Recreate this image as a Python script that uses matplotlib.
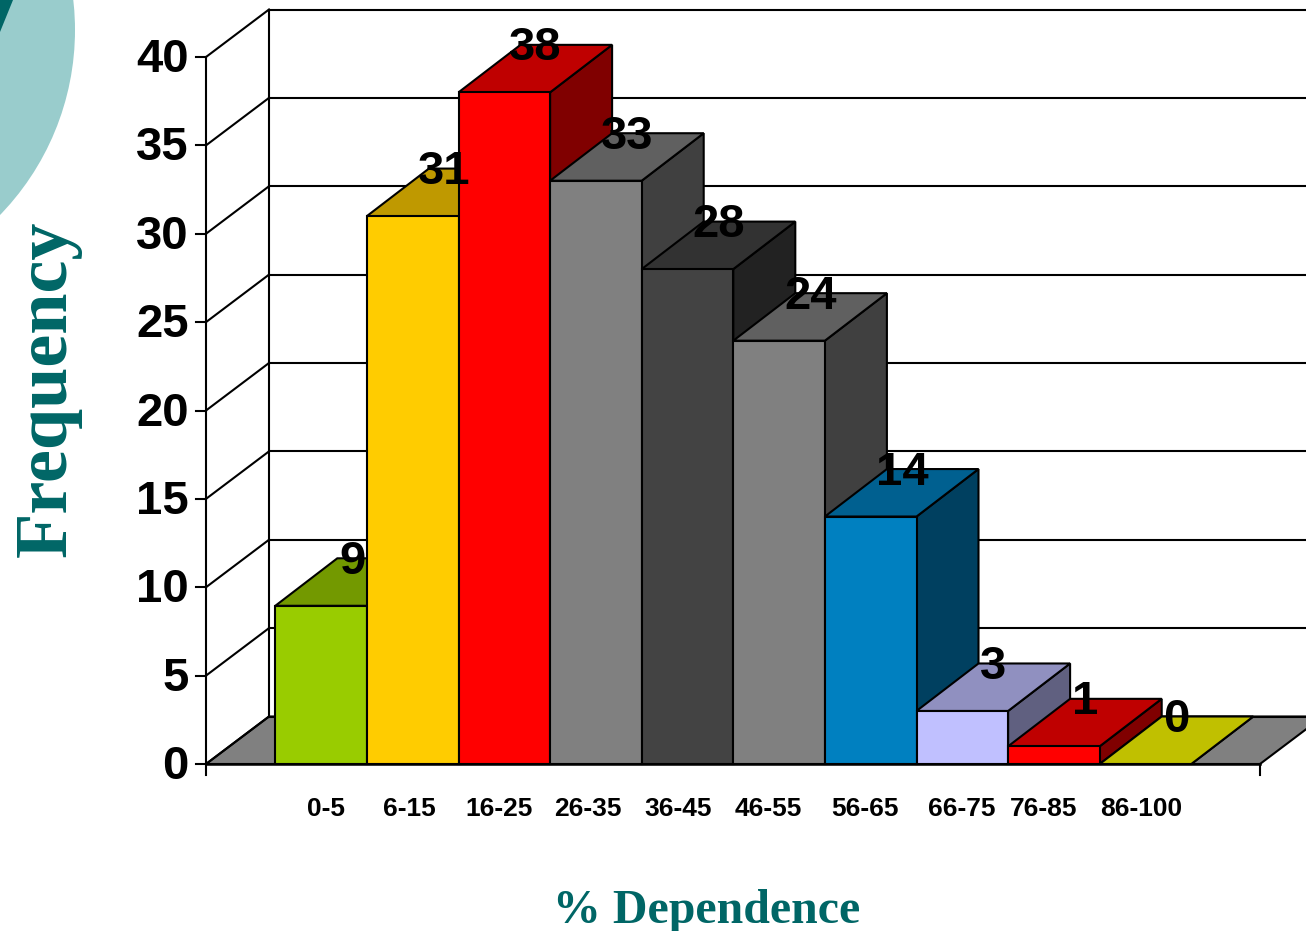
import matplotlib
matplotlib.use("Agg")
from matplotlib import pyplot as plt
from matplotlib.patches import Circle, Polygon

categories = ["0-5", "6-15", "16-25", "26-35", "36-45", "46-55", "56-65", "66-75", "76-85", "86-100"]
values = [8.95, 31, 38, 33, 28, 23.95, 14, 3, 1, 0]
value_labels = ["9", "31", "38", "33", "28", "24", "14", "3", "1", "0"]
y_ticks = [0, 5, 10, 15, 20, 25, 30, 35, 40]

front_colors = ["#99CC00", "#FFCC00", "#FF0000", "#808080", "#434343", "#808080", "#0080C0", "#C0C0FF", "#FF0000", "#FFFF00"]
top_colors = ["#739900", "#BF9900", "#BF0000", "#606060", "#323232", "#606060", "#006090", "#9090C0", "#BF0000", "#C0C000"]
side_colors = ["#4D6600", "#806600", "#800000", "#404040", "#222222", "#404040", "#004060", "#606080", "#800000", "#808000"]

# where the category labels sit, they are not centred under the bars
label_px = [326, 409, 499, 588, 678, 768, 865, 962, 1044, 1141]

W, H = 1306, 931
X0, Y0 = 275.3, 764  # pixel of first bar left / value 0
XU, YU = 91.6, 17.675  # pixels per category / per value
DX, DY = 62 / XU, 47.5 / YU  # depth of the bars
WALL_DX = 63 / XU  # depth of the box is a bit more
AX_L, AX_R = (206 - X0) / XU, (1260 - X0) / XU

TEAL = "#006666"
LW = 1.5


def line(ax, xs, ys, lw=LW):
    ax.plot(xs, ys, color="black", lw=lw, solid_capstyle="projecting", zorder=2)


def poly(ax, pts, color, z):
    ax.add_patch(Polygon(pts, closed=True, facecolor=color, edgecolor="black", lw=LW, joinstyle="miter", zorder=z))


fig = plt.figure(figsize=(W / 100, H / 100), dpi=100)
ax = fig.add_axes([0, 0, 1, 1])
ax.set_xlim(-X0 / XU, (W - X0) / XU)
ax.set_ylim((Y0 - H) / YU, Y0 / YU)
ax.axis("off")


def px(x, y):
    return (x - X0) / XU, (Y0 - y) / YU


# decoration in the top left corner
corner = fig.add_axes([0, 0, 1, 1], zorder=-1)
corner.set_xlim(0, W)
corner.set_ylim(H, 0)
corner.axis("off")
corner.add_patch(Circle((-190.7, 30), 265.7, facecolor="#99CCCC", edgecolor="none"))
corner.add_patch(Polygon([(0, 0), (13, 0), (0, 32)], facecolor=TEAL, edgecolor="none"))

# walls and grid
for v in y_ticks:
    line(ax, [AX_L - 10 / XU, AX_L], [v, v])
    line(ax, [AX_L, AX_L + WALL_DX], [v, v + DY])
    line(ax, [AX_L + WALL_DX, AX_R + WALL_DX], [v + DY, v + DY])
    ax.text(*px(188.5, Y0 - v * YU - 2), str(v), ha="right", va="center_baseline", fontsize=34,
            fontweight="bold", family="Liberation Sans", zorder=6)
line(ax, [AX_L, AX_L], [-11 / YU, y_ticks[-1]])
line(ax, [AX_L + WALL_DX, AX_L + WALL_DX], [DY, y_ticks[-1] + DY])
line(ax, [AX_R, AX_R], [-11 / YU, 0])

# floor
poly(ax, [(AX_L, 0), (AX_R, 0), (AX_R + WALL_DX, DY), (AX_L + WALL_DX, DY)], "#808080", 1)

# bars left to right, next one covers the side of the previous
for i, v in enumerate(values):
    z = 3 + i * 0.1
    poly(ax, [(i + 1, 0), (i + 1 + DX, DY), (i + 1 + DX, v + DY), (i + 1, v)], side_colors[i], z)
    poly(ax, [(i, v), (i + 1, v), (i + 1 + DX, v + DY), (i + DX, v + DY)], top_colors[i], z)
    if v > 0:
        poly(ax, [(i, 0), (i + 1, 0), (i + 1, v), (i, v)], front_colors[i], z)
    ax.text(i + 0.5 + 0.34, v + DY + 1.5 / YU, value_labels[i], ha="center", va="center_baseline", fontsize=34,
            fontweight="bold", family="Liberation Sans", zorder=7)

line(ax, [AX_L, AX_R], [0, 0], lw=1.8)
ax.lines[-1].set_zorder(5)

for lab, p in zip(categories, label_px):
    ax.text(*px(p, 807), lab, ha="center", va="center_baseline", fontsize=19,
            fontweight="bold", family="Liberation Sans")

ax.text(*px(707, 906), "% Dependence", ha="center", va="center_baseline", fontsize=34.5, fontweight="bold",
        family="Liberation Serif", color=TEAL)
ax.text(*px(48, 389), "Frequency", ha="center", va="center", rotation=90, fontsize=53.5, fontweight="bold",
        family="Liberation Serif", color=TEAL)

fig.savefig("out.png", dpi=100)
